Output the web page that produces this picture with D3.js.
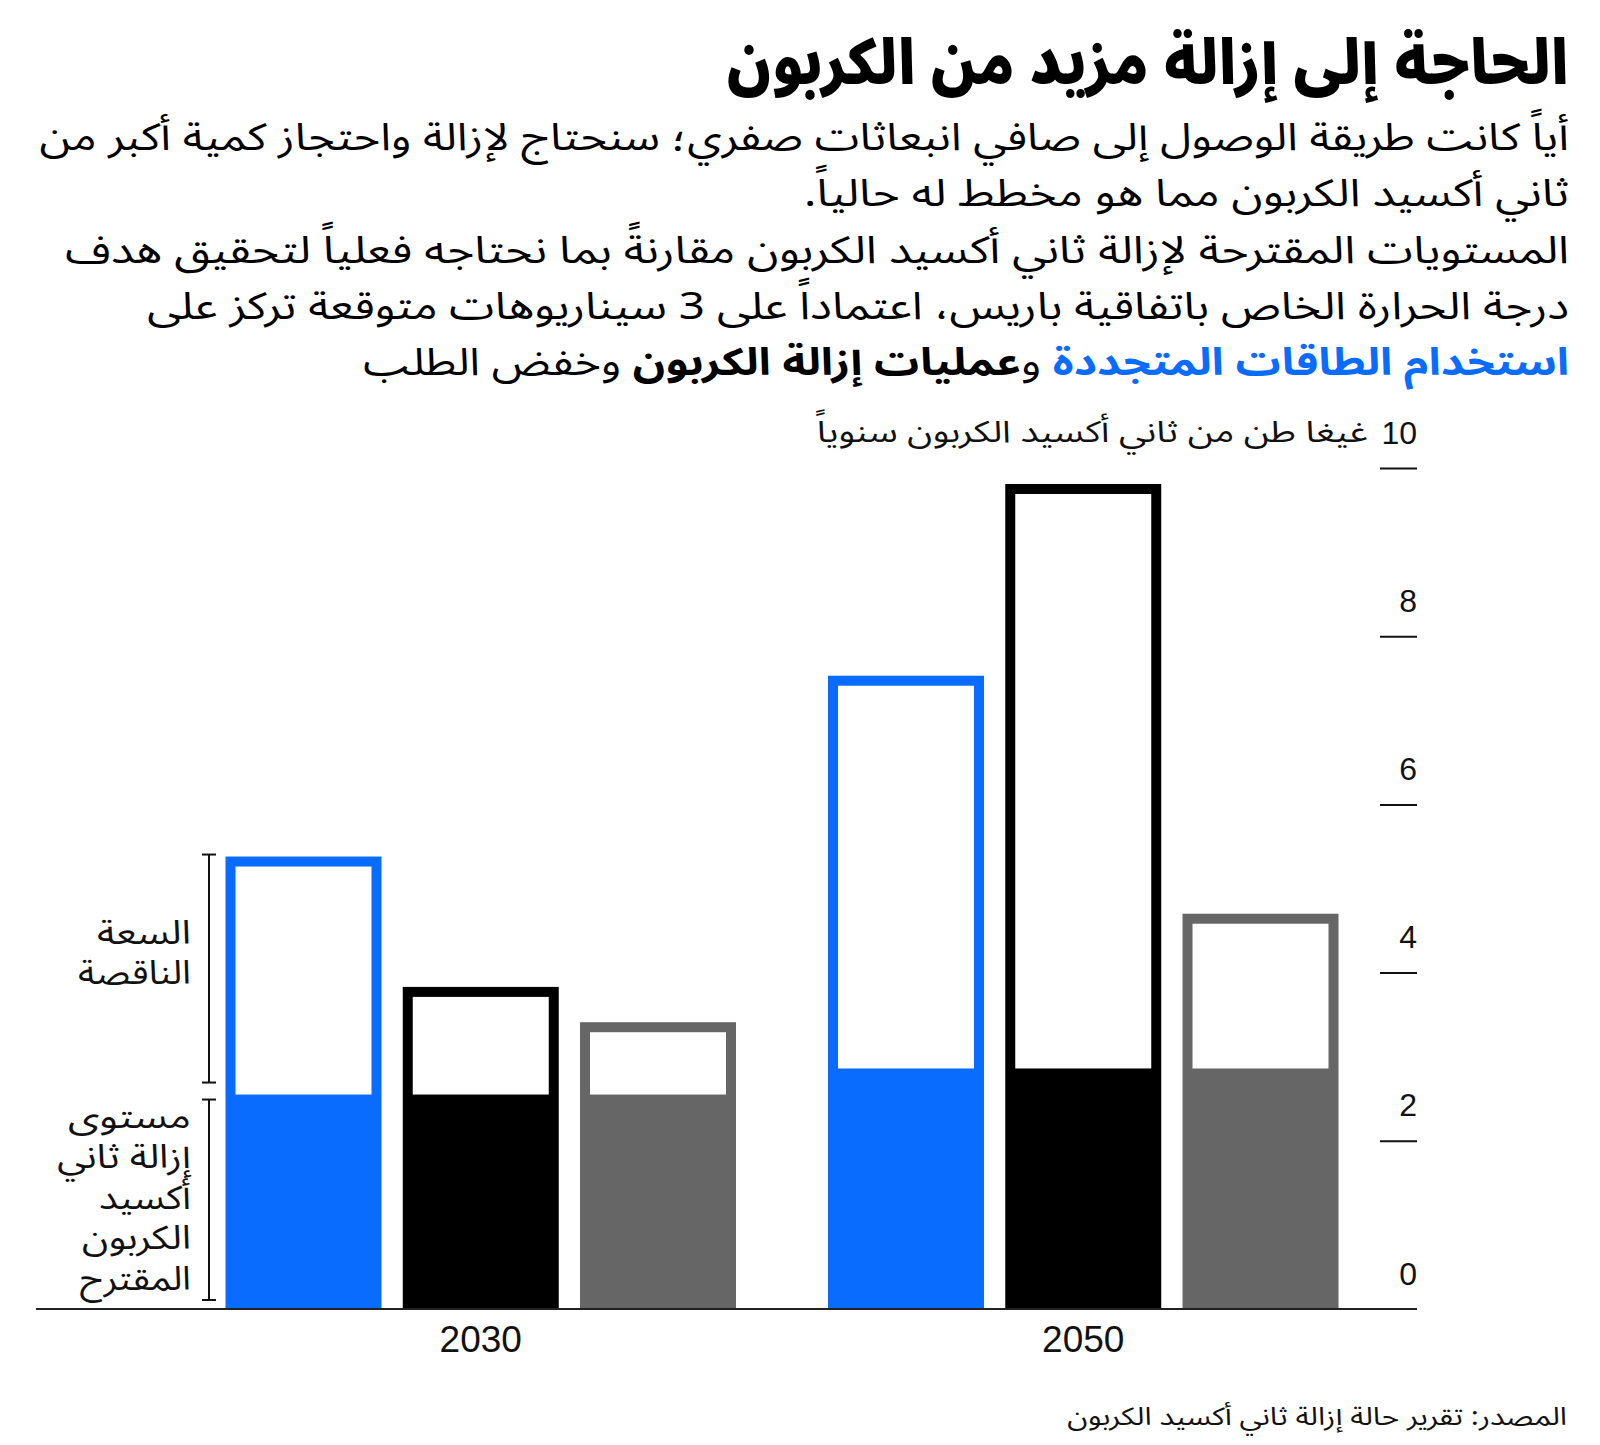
<!DOCTYPE html>
<html><head><meta charset="utf-8">
<script src="https://cdn.jsdelivr.net/npm/d3@7"></script>
<style>body{margin:0;background:#fff}</style>
</head><body>
<svg id="c" width="1600" height="1445"></svg>
<script>
// ---- data ----
const years = ["2030", "2050"];
const scenarios = ["renewables", "cdr", "demand"];
const scenarioColors = ["#0a6cff", "#000000", "#666666"];
const requiredTotals2030 = [5.38, 3.83, 3.41];
const requiredTotals2050 = [7.53, 9.81, 4.70];
const proposedLevels = [2.55, 2.86];
const yTicks = [0, 2, 4, 6, 8, 10];

const titleText = "الحاجة إلى إزالة مزيد من الكربون";
const subtitleLines = [
  "أياً كانت طريقة الوصول إلى صافي انبعاثات صفري؛ سنحتاج لإزالة واحتجاز كمية أكبر من",
  "ثاني أكسيد الكربون مما هو مخطط له حالياً.",
  "المستويات المقترحة لإزالة ثاني أكسيد الكربون مقارنةً بما نحتاجه فعلياً لتحقيق هدف",
  "درجة الحرارة الخاص باتفاقية باريس، اعتماداً على 3 سيناريوهات متوقعة تركز على"
];
const lastLine = [
  {t: "استخدام الطاقات المتجددة ", c: "#0a6cff", w: 700},
  {t: "و", c: "#000", w: 400},
  {t: "عمليات إزالة الكربون ", c: "#000", w: 700},
  {t: "وخفض الطلب", c: "#000", w: 400}
];
const unitText = "غيغا طن من ثاني أكسيد الكربون سنوياً";
const gapLabel = ["السعة", "الناقصة"];
const proposedLabel = ["مستوى", "إزالة ثاني", "أكسيد", "الكربون", "المقترح"];
const sourceText = "المصدر: تقرير حالة إزالة ثاني أكسيد الكربون";

const data = years.map((yr, i) => ({
  year: yr,
  proposed: proposedLevels[i],
  bars: scenarios.map((s, j) => ({
    s, color: scenarioColors[j],
    total: (i === 0 ? requiredTotals2030 : requiredTotals2050)[j],
    proposed: proposedLevels[i]
  }))
}));

// ---- layout ----
const AR = "'Noto Sans Arabic', 'Noto Naskh Arabic', 'DejaVu Sans', sans-serif";
const LAT = "'Liberation Sans', Arial, sans-serif";
const svg = d3.select("#c");
const RIGHT = 1569;

function fitWidth(sel, xr, target) {
  const w = sel.node().getBBox().width;
  const k = target / w;
  sel.attr("transform", `translate(${xr},0) scale(${k},1) translate(${-xr},0)`);
}

// title
const title = svg.append("text")
  .attr("x", RIGHT).attr("y", 84)
  .attr("direction", "rtl").attr("text-anchor", "start")
  .attr("font-family", AR).attr("font-weight", 900).attr("font-size", 62)
  .attr("fill", "#000").text(titleText);
fitWidth(title, RIGHT, 842);

const subTargets = [1530, 765, 1504, 1422];
const subBase = [150, 206, 263, 319];
subtitleLines.forEach((line, i) => {
  const t = svg.append("text")
    .attr("x", RIGHT).attr("y", subBase[i])
    .attr("direction", "rtl").attr("text-anchor", "start")
    .attr("font-family", AR).attr("font-size", 38)
    .attr("fill", "#000").text(line);
  fitWidth(t, RIGHT, subTargets[i]);
});
const ll = svg.append("text")
  .attr("x", RIGHT).attr("y", 375)
  .attr("direction", "rtl").attr("text-anchor", "start")
  .attr("font-family", AR).attr("font-size", 38);
lastLine.forEach(p => ll.append("tspan").attr("fill", p.c).attr("font-weight", p.w).text(p.t));
fitWidth(ll, RIGHT, 1206);

// scales
const y = d3.scaleLinear().domain([0, 10]).range([1309, 468]);
const x0 = d3.scaleBand().domain(years).range([225.5, 1338.5]).paddingInner(0.1527).paddingOuter(0);
const x1 = d3.scaleBand().domain(scenarios).range([0, x0.bandwidth()]).paddingInner(0.12).paddingOuter(0);
const SW = 10;

// bars
const groups = svg.append("g").selectAll("g").data(data).join("g")
  .attr("transform", d => `translate(${x0(d.year)},0)`);
const bar = groups.selectAll("g").data(d => d.bars).join("g")
  .attr("transform", d => `translate(${x1(d.s)},0)`);
bar.append("rect")
  .attr("x", 0).attr("width", x1.bandwidth())
  .attr("y", d => y(d.total)).attr("height", d => y(0) - y(d.total))
  .attr("fill", d => d.color);
bar.append("rect")
  .attr("x", SW).attr("width", x1.bandwidth() - 2 * SW)
  .attr("y", d => y(d.total) + SW)
  .attr("height", d => y(d.proposed) - y(d.total) - SW)
  .attr("fill", "#fff");

// y axis
const yAxis = d3.axisRight(y).tickValues(yTicks).tickSize(37).tickFormat(d3.format("d"));
const ya = svg.append("g").attr("transform", "translate(1380,0)").call(yAxis);
ya.select(".domain").remove();
ya.selectAll(".tick line").attr("stroke", "#111").attr("stroke-width", 2);
ya.selectAll(".tick text")
  .attr("x", 37).attr("dy", "-25px").attr("text-anchor", "end")
  .attr("font-family", LAT).attr("font-size", 32).attr("fill", "#111");
ya.selectAll(".tick").filter(d => d === 0).select("line").remove();

// unit label
const unit = svg.append("text")
  .attr("x", 1368).attr("y", 442)
  .attr("direction", "rtl").attr("text-anchor", "start")
  .attr("font-family", AR).attr("font-size", 30).attr("fill", "#111").text(unitText);
fitWidth(unit, 1368, 552);

// baseline
svg.append("line").attr("x1", 36).attr("x2", 1417).attr("y1", y(0)).attr("y2", y(0))
  .attr("stroke", "#222").attr("stroke-width", 2);

// x labels
const xa = d3.axisBottom(x0).tickSize(0).tickPadding(0);
const xg = svg.append("g").attr("transform", `translate(0,${y(0) + 43})`).call(xa);
xg.select(".domain").remove();
xg.selectAll(".tick text").attr("font-family", LAT).attr("font-size", 37).attr("fill", "#111")
  .attr("dy", "0").attr("y", 0).attr("x", 0);

// annotations (brackets)
const first = data[0];
const topGap = y(first.bars[0].total) - 2;
const botGap = y(first.proposed) - 12;
const topProp = y(first.proposed) + 5;
const botProp = y(0) - 9;
function bracket(y1, y2) {
  const bx = 209, hw = 7;
  const g = svg.append("g").attr("stroke", "#111").attr("stroke-width", 2);
  g.append("line").attr("x1", bx).attr("x2", bx).attr("y1", y1).attr("y2", y2);
  g.append("line").attr("x1", bx - hw).attr("x2", bx + hw).attr("y1", y1).attr("y2", y1);
  g.append("line").attr("x1", bx - hw).attr("x2", bx + hw).attr("y1", y2).attr("y2", y2);
}
bracket(topGap, botGap);
bracket(topProp, botProp);

const gapW = [94, 113];
const propW = [123, 135, 92, 109, 111];
gapLabel.forEach((t, i) => {
  const s = svg.append("text")
    .attr("x", 191).attr("y", 944 + i * 40)
    .attr("direction", "rtl").attr("text-anchor", "start")
    .attr("font-family", AR).attr("font-size", 33).attr("fill", "#111").text(t);
  fitWidth(s, 191, gapW[i]);
});
proposedLabel.forEach((t, i) => {
  const s = svg.append("text")
    .attr("x", 191).attr("y", 1128 + i * 40.5)
    .attr("direction", "rtl").attr("text-anchor", "start")
    .attr("font-family", AR).attr("font-size", 33).attr("fill", "#111").text(t);
  fitWidth(s, 191, propW[i]);
});

// source
const src = svg.append("text")
  .attr("x", 1567).attr("y", 1425)
  .attr("direction", "rtl").attr("text-anchor", "start")
  .attr("font-family", AR).attr("font-size", 25).attr("fill", "#111").text(sourceText);
fitWidth(src, 1567, 500);
</script>
</body></html>
